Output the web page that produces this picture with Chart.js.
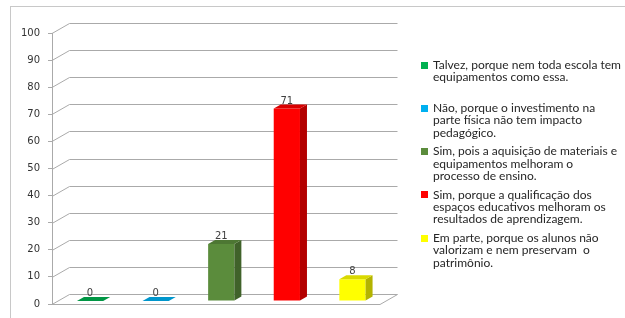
<!DOCTYPE html>
<html><head><meta charset="utf-8">
<script src="https://cdn.jsdelivr.net/npm/chart.js@4.4.0/dist/chart.umd.min.js"></script>
<style>html,body{margin:0;padding:0;background:#fff;}#wrap{width:625px;height:318px;position:relative;}</style>
</head><body><div id="wrap"><canvas id="c" width="625" height="318"></canvas></div>
<script>
const categories = [
  ["Talvez, porque nem toda escola tem", "equipamentos como essa."],
  ["Não, porque o investimento na", "parte física não tem impacto", "pedagógico."],
  ["Sim, pois a aquisição de materiais e", "equipamentos melhoram o", "processo de ensino."],
  ["Sim, porque a qualificação dos", "espaços educativos melhoram os", "resultados de aprendizagem."],
  ["Em parte, porque os alunos não", "valorizam e nem preservam  o", "patrimônio."]
];
const values = [0, 0, 21, 71, 8];
const yTickValues = [0, 10, 20, 30, 40, 50, 60, 70, 80, 90, 100];
const colors = ['#00B050', '#00B0F0', '#5B8C3C', '#FF0000', '#FFFF00'];

const D = {x: 17.5, y: -10};
const BAR_OFF = 0.3, BAR_DEPTH = 0.4;
const GRID = '#aaaaaa';

function shade(hex, f) {
  const n = parseInt(hex.slice(1), 16);
  const r = Math.round(((n >> 16) & 255) * f), g = Math.round(((n >> 8) & 255) * f), b = Math.round((n & 255) * f);
  return `rgb(${r},${g},${b})`;
}

const plugin3d = {
  id: 'threeD',
  beforeDraw(chart) {
    const ctx = chart.ctx, a = chart.chartArea, ys = chart.scales.y;
    ctx.save();
    ctx.strokeStyle = '#c8c8c8'; ctx.lineWidth = 1;
    ctx.strokeRect(10.5, 6.5, 800, 500);
    ctx.strokeStyle = GRID;
    ys.ticks.forEach(t => {
      const y = Math.round(ys.getPixelForValue(t.value)) + 0.5;
      ctx.beginPath();
      ctx.moveTo(a.left, y);
      ctx.lineTo(a.left + D.x, y + D.y);
      ctx.lineTo(a.right + D.x, y + D.y);
      ctx.stroke();
    });
    const y0 = Math.round(ys.getPixelForValue(0)) + 0.5;
    ctx.beginPath();
    ctx.moveTo(a.left, y0); ctx.lineTo(a.right, y0); ctx.lineTo(a.right + D.x, y0 + D.y);
    ctx.stroke();
    ctx.restore();
  },
  beforeDatasetsDraw(chart) {
    chart.ctx.save();
    chart.ctx.translate(D.x * BAR_OFF, D.y * BAR_OFF);
  },
  afterDatasetsDraw(chart) {
    const ctx = chart.ctx, meta = chart.getDatasetMeta(0);
    const dx = D.x * BAR_DEPTH, dy = D.y * BAR_DEPTH;
    meta.data.forEach((bar, i) => {
      const p = bar.getProps(['x', 'y', 'base', 'width'], true);
      const l = p.x - p.width / 2, r = p.x + p.width / 2, t = p.y, b = p.base;
      ctx.fillStyle = shade(colors[i], 0.7);
      ctx.beginPath();
      ctx.moveTo(r, b); ctx.lineTo(r, t); ctx.lineTo(r + dx, t + dy); ctx.lineTo(r + dx, b + dy);
      ctx.closePath(); ctx.fill();
      ctx.fillStyle = shade(colors[i], 0.85);
      ctx.beginPath();
      ctx.moveTo(l, t); ctx.lineTo(r, t); ctx.lineTo(r + dx, t + dy); ctx.lineTo(l + dx, t + dy);
      ctx.closePath(); ctx.fill();
      ctx.fillStyle = '#404040';
      ctx.font = '10px "DejaVu Sans"';
      ctx.textAlign = 'center'; ctx.textBaseline = 'alphabetic';
      ctx.fillText(String(values[i]), p.x, t - 5);
    });
    ctx.restore();
  },
  afterDraw(chart) {
    const ctx = chart.ctx;
    ctx.save();
    const fam = 'Lato';
    ctx.font = `12px ${fam}`;
    const w = ctx.measureText(categories[0][0]).width;
    const size = 12 * 188 / w;
    ctx.font = `${size.toFixed(2)}px ${fam}`;
    ctx.textAlign = 'left'; ctx.textBaseline = 'middle';
    const lh = 12.3;
    categories.forEach((lines, i) => {
      const y0 = 65 + i * 43.3;
      ctx.fillStyle = colors[i];
      ctx.fillRect(421, Math.round(y0 - 3.5), 7, 7);
      ctx.fillStyle = '#262626';
      lines.forEach((s, k) => ctx.fillText(s, 433, y0 + k * lh));
    });
    ctx.restore();
  }
};

new Chart(document.getElementById('c'), {
  type: 'bar',
  data: {
    labels: categories,
    datasets: [{
      data: values,
      backgroundColor: colors,
      borderWidth: 0,
      barPercentage: 0.4,
      categoryPercentage: 1.0
    }]
  },
  options: {
    responsive: false,
    animation: false,
    devicePixelRatio: 1,
    layout: {padding: {left: 0, right: 245, top: 33, bottom: 13}},
    plugins: {legend: {display: false}, tooltip: {enabled: false}},
    scales: {
      x: {display: false},
      y: {
        min: 0, max: 100,
        afterBuildTicks(s) { s.ticks = yTickValues.map(v => ({value: v})); },
        ticks: {color: '#333333', font: {family: 'DejaVu Sans', size: 10}, padding: 8},
        grid: {display: true, drawOnChartArea: false, drawTicks: true, tickLength: 4, color: GRID},
        border: {display: true, color: GRID},
        afterFit(s) { s.width = 52; }
      }
    }
  },
  plugins: [plugin3d]
});
</script></body></html>
